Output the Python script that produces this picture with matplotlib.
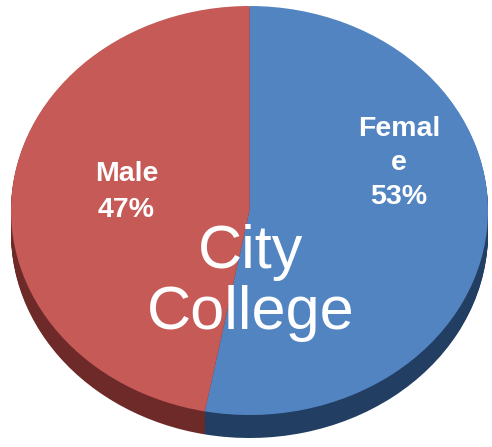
import matplotlib
matplotlib.use("Agg")
import matplotlib.pyplot as plt

categories = ["Female", "Male"]
shares = [53, 47]
label_texts = ["Femal\ne\n53%", "Male\n47%"]
title_text = "City\nCollege"

top_colors = ["#5384C2", "#C65A57"]
side_colors = ["#223F63", "#6E2A28"]

W, H = 492, 447
cx, cy = 249.5, 210.5
rx, ry = 238.5, 204.5
depth = 23

fig = plt.figure(figsize=(W / 100, H / 100), dpi=100)
ax = fig.add_axes([0, 0, 1, 1])

# side (extrusion) layers
for k in range(depth, 0, -1):
    ax.pie(shares, colors=side_colors, startangle=90, counterclock=False,
           radius=1, center=(0, -k / ry),
           wedgeprops=dict(linewidth=0))
# top face
wedges, _ = ax.pie(shares, colors=top_colors, startangle=90, counterclock=False,
                   radius=1, center=(0, 0), wedgeprops=dict(linewidth=0))

ax.set_aspect("auto")
ax.set_xlim((0 - cx) / rx, (W - cx) / rx)
ax.set_ylim(-(H - cy) / ry, cy / ry)
ax.axis("off")

def px(x, y):
    return (x - cx) / rx, (cy - y) / ry

font = "Liberation Sans"
x, y = px(399, 163)
ax.text(x, y, label_texts[0], ha="center", va="center", color="white",
        fontsize=20.5, fontweight="bold", family=font, linespacing=1.42)
x, y = px(126.5, 192)
ax.text(x, y, label_texts[1], ha="center", va="center", color="white",
        fontsize=20.5, fontweight="bold", family=font, linespacing=1.5)
x, y = px(251, 283)
ax.text(x, y, title_text, ha="center", va="center", color="white",
        fontsize=44, family=font, linespacing=1.11)

fig.savefig("out.png", dpi=100)
